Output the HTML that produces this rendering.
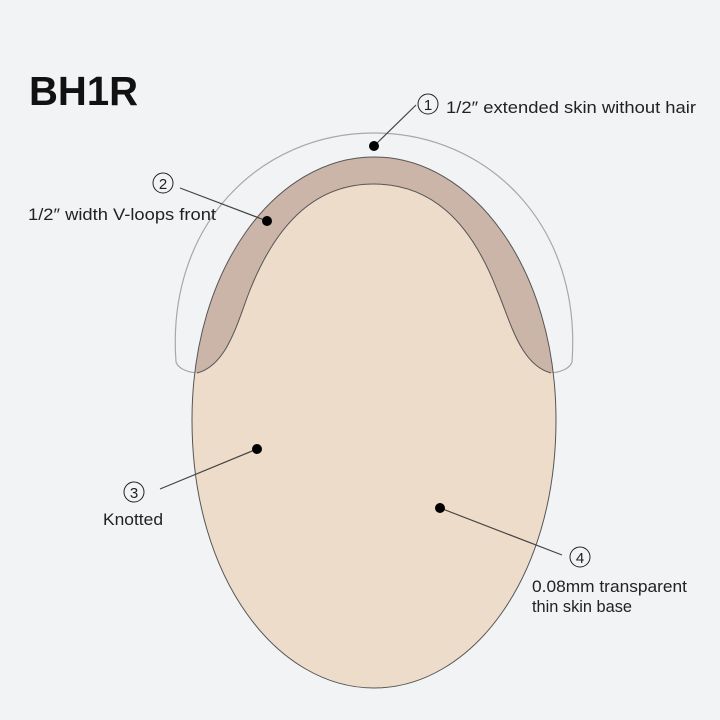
<!DOCTYPE html>
<html><head><meta charset="utf-8"><style>html,body{margin:0;padding:0;background:#f2f3f5}svg{display:block}</style></head>
<body>
<svg width="720" height="720" viewBox="0 0 720 720" xmlns="http://www.w3.org/2000/svg" font-family="Liberation Sans, sans-serif">
<defs>
<clipPath id="ov"><path d="M374 157 C472 157 556 268 556 420 C556 580 470 688 374 688 C278 688 192 580 192 420 C192 268 276 157 374 157 Z"/></clipPath>
</defs>
<rect width="720" height="720" fill="#f2f3f5"/>
<path d="M176 362 C166 225 260 133 374 133 C488 133 582 225 572 362 C570 368 562 372 551 373 L197 373 C186 372 178 368 176 362 Z" fill="none" stroke="#a8a8a8" stroke-width="1.2"/>
<path d="M374 157 C472 157 556 268 556 420 C556 580 470 688 374 688 C278 688 192 580 192 420 C192 268 276 157 374 157 Z" fill="#eedccb"/>
<path clip-path="url(#ov)" d="M150 373 L150 100 L600 100 L600 373 L551 373 C520 365 510 320 497 290 C470 220 430 184 374 184 C318 184 278 220 250 290 C238 320 228 365 197 373 Z" fill="#cbb5a9"/>
<path d="M551 373 C520 365 510 320 497 290 C470 220 430 184 374 184 C318 184 278 220 250 290 C238 320 228 365 197 373" fill="none" stroke="#555" stroke-width="1"/>
<path d="M374 157 C472 157 556 268 556 420 C556 580 470 688 374 688 C278 688 192 580 192 420 C192 268 276 157 374 157 Z" fill="none" stroke="#555" stroke-width="1"/>
<g stroke="#444" stroke-width="1.2">
<line x1="374" y1="146" x2="416" y2="105"/>
<line x1="267" y1="221" x2="180" y2="188"/>
<line x1="257" y1="449" x2="160" y2="489"/>
<line x1="440" y1="508" x2="562" y2="555"/>
</g>
<g fill="#000">
<circle cx="374" cy="146" r="5"/>
<circle cx="267" cy="221" r="5"/>
<circle cx="257" cy="449" r="5"/>
<circle cx="440" cy="508" r="5"/>
</g>
<g fill="none" stroke="#222" stroke-width="1">
<circle cx="428" cy="104" r="10"/>
<circle cx="163" cy="183" r="10"/>
<circle cx="134" cy="492" r="10"/>
<circle cx="580" cy="557" r="10"/>
</g>
<g font-size="15" fill="#222" text-anchor="middle">
<text x="428" y="110">1</text>
<text x="163" y="189">2</text>
<text x="134" y="498">3</text>
<text x="580" y="563">4</text>
</g>
<text x="29" y="105" font-size="41" font-weight="bold" fill="#111" textLength="109" lengthAdjust="spacingAndGlyphs">BH1R</text>
<g font-size="17" fill="#222">
<text x="446" y="113" textLength="250" lengthAdjust="spacingAndGlyphs">1/2″  extended skin without hair</text>
<text x="28" y="220" textLength="188" lengthAdjust="spacingAndGlyphs">1/2″  width V-loops front</text>
<text x="103" y="525" textLength="60" lengthAdjust="spacingAndGlyphs">Knotted</text>
<text x="532" y="592" textLength="155" lengthAdjust="spacingAndGlyphs">0.08mm transparent</text>
<text x="532" y="612" textLength="100" lengthAdjust="spacingAndGlyphs">thin skin base</text>
</g>
</svg>
</body></html>
